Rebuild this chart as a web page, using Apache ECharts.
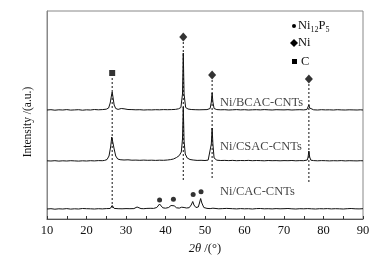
<!DOCTYPE html>
<html><head><meta charset="utf-8">
<script src="https://cdn.jsdelivr.net/npm/echarts@6/dist/echarts.min.js"></script>
<style>html,body{margin:0;padding:0;background:#fff}#c{width:385px;height:262px}</style>
</head><body><div id="c"></div>
<script>
// X ticks (2θ / °)
const xTicks = [10, 20, 30, 40, 50, 60, 70, 80, 90];
// Curves: [2θ, intensity (a.u., offset stacked)]
const bcac = [[10,109],[11,109.3],[12,108.8],[13,109.2],[14,109],[15,109.4],[16,108.9],[17,109.1],[18,109.3],[19,108.8],[20,109.2],[21,109],[22,109.5],[23,109.2],[24,109.4],[25,109.8],[25.6,111],[26,116],[26.3,123],[26.5,127],[26.7,122],[27,114],[27.4,110.5],[28,109.6],[28.8,110.5],[29.5,110.2],[30.5,109.5],[31.5,109.4],[32.5,109.2],[33.5,109.3],[34.5,109],[35.5,109.2],[36.5,109.1],[37.5,109.3],[38.5,109.2],[39.5,109.4],[40.5,109.3],[41.5,109.4],[42.5,109.6],[43.3,110.2],[43.9,111.5],[44.3,125],[44.5,166],[44.7,125],[45.1,111.5],[45.7,110],[46.5,109.5],[47.5,109.3],[48.5,109.2],[49.5,109.3],[50.5,109.4],[51.3,110.5],[51.6,117],[51.8,126],[52.0,117],[52.3,110.5],[53,109.4],[54,109.2],[55,109.3],[56,109],[57,109.2],[58,109.4],[59,109.1],[60,109.3],[61,109],[62,109.2],[63,109.3],[64,109.1],[65,109.4],[66,109.2],[67,109],[68,109.3],[69,109.2],[70,109.1],[71,109.3],[72,109],[73,109.2],[74,109.3],[75,109.1],[75.8,109.5],[76.1,111],[76.3,114],[76.5,111],[76.8,109.4],[77.5,109.2],[78.5,109],[79.5,109.3],[80.5,109.1],[81.5,109.2],[82.5,109],[83.5,109.3],[84.5,109.1],[85.5,109],[86.5,109.2],[87.5,109.1],[88.5,109],[89.3,109.2],[90,109]];
const csac = [[10,58.2],[11,58],[12,58.3],[13,57.9],[14,58.2],[15,58],[16,58.3],[17,58.1],[18,57.9],[19,58.2],[20,58],[21,58.3],[22,58.1],[23,58.4],[24,58.3],[24.6,58.6],[25.2,59.5],[25.7,63],[26.1,72],[26.4,82],[26.5,84],[26.7,80],[27,70],[27.4,63],[27.9,60],[28.5,59.3],[29.5,59],[30.5,59.2],[31.5,58.8],[32.5,58.9],[33.5,58.7],[34.5,58.9],[35.5,58.7],[36.5,58.8],[37.5,58.6],[38.5,58.8],[39.5,58.7],[40.5,59],[41.3,59.4],[42,60],[42.8,61.5],[43.5,63.5],[44,67],[44.3,80],[44.5,112],[44.7,78],[45,65],[45.5,61],[46.2,59.5],[47,59],[48,58.6],[49,58.7],[50,58.5],[50.8,58.9],[51.3,60.5],[51.6,75],[51.8,91],[52,75],[52.3,61],[53,58.8],[54,58.5],[55,58.6],[56,58.4],[57,58.6],[58,58.3],[59,58.5],[60,58.4],[61,58.6],[62,58.3],[63,58.5],[64,58.4],[65,58.2],[66,58.5],[67,58.3],[68,58.4],[69,58.2],[70,58.4],[71,58.3],[72,58.5],[73,58.2],[74,58.4],[75,58.3],[75.9,59],[76.1,62],[76.3,68],[76.5,62],[76.8,58.8],[77.5,58.4],[78.5,58.2],[79.5,58.4],[80.5,58.3],[81.5,58.1],[82.5,58.3],[83.5,58.2],[84.5,58.4],[85.5,58.1],[86.5,58.3],[87.5,58.2],[88.5,58.1],[89.3,58.3],[90,58.2]];
const cac = [[10,10],[11,10.3],[12,9.8],[13,10.2],[14,10],[15,10.4],[16,9.9],[17,10.2],[18,10],[19,10.5],[20,10.3],[20.5,11],[21,10.2],[22,10],[23,10.3],[24,10.1],[25,10.4],[26,10.5],[26.3,12],[26.5,13.5],[26.7,12],[27,10.6],[28,10.3],[29,10.2],[30,10.4],[30.5,11],[31,10.3],[32,10.4],[32.5,11.5],[32.8,12],[33.1,11],[33.8,10.4],[34.5,10.3],[35.3,10.6],[35.8,11.5],[36.3,10.7],[37,10.6],[37.8,11.5],[38.2,13.5],[38.5,15],[38.8,13.5],[39.3,11.2],[40,10.8],[40.8,11.5],[41.4,13.5],[41.8,15],[42.2,13.2],[42.8,11.2],[43.5,10.9],[44.1,11.8],[44.4,12.5],[44.7,11.5],[45.3,11],[46,11.3],[46.5,14],[46.9,17.5],[47.2,14],[47.7,11.5],[48.3,12],[48.6,16],[48.9,20.5],[49.2,16],[49.7,11.5],[50.5,10.6],[51.3,10.4],[52,10.8],[52.5,10.3],[53.5,10.2],[54.5,10.4],[55.5,10.6],[56,10.2],[57,10.3],[58,10.1],[59,10.4],[60,10.2],[61,10.3],[62,10],[63,10.4],[64,10.5],[65,10.2],[66,10.3],[67,10.1],[68,10.4],[69,10.2],[70,10.3],[71,10.5],[72,10.2],[73,10],[74,10.3],[75,10.2],[76,10.4],[77,10.2],[78,10],[79,10.3],[80,10.2],[81,10.4],[82,10.1],[83,10.3],[84,10.2],[85,10],[86,10.3],[87,10.5],[88,10.2],[89,10.1],[90,10.3]];
// Phase markers
const ni12p5Marks = [[38.5,19],[42.0,19.7],[47.0,24.6],[49.0,27.2]];
const niMarks = [[44.5,182],[51.8,144],[76.3,140]];
const cMarks = [[26.5,146]];
// Dotted guide lines: [2θ, top, bottom]
const guides = [[26.5,141,11],[44.5,177,38],[51.8,139,41],[76.3,135,36]];
// Curve labels: [2θ, intensity, text]
const curveLabels = [[53.8,116,'Ni/BCAC-CNTs'],[53.8,72,'Ni/CSAC-CNTs'],[53.8,27,'Ni/CAC-CNTs']];

const FONT = '"Liberation Serif","Times New Roman",serif';
const chart = echarts.init(document.getElementById('c'), null, {renderer:'canvas'});
const lineS = (d) => ({type:'line', data:d, symbol:'none', silent:true, lineStyle:{color:'#111', width:1}, z:3});
const series = [lineS(bcac), lineS(csac), lineS(cac)];
guides.forEach(g => series.push({type:'line', data:[[g[0],g[1]],[g[0],g[2]]], symbol:'none', silent:true, lineStyle:{color:'#111', width:1, type:[2,2]}, z:2}));
series.push({type:'scatter', data:ni12p5Marks, symbol:'circle', symbolSize:5, itemStyle:{color:'#000'}, z:4});
series.push({type:'scatter', data:niMarks, symbol:'diamond', symbolSize:[8,9], itemStyle:{color:'#000'}, z:4});
series.push({type:'scatter', data:cMarks, symbol:'rect', symbolSize:6, itemStyle:{color:'#000'}, z:4});
series.push({type:'scatter', data:curveLabels.map(l=>({value:[l[0],l[1]], name:l[2]})), symbolSize:0, z:5,
  label:{show:true, position:[0,0], align:'left', verticalAlign:'middle', formatter:p=>p.name, color:'#111', fontFamily:FONT, fontSize:12.5}});

chart.setOption({
  animation:false,
  grid:{left:47, top:11, right:22, bottom:43, show:true, borderColor:'#888', borderWidth:1},
  xAxis:{type:'value', min:xTicks[0], max:xTicks[xTicks.length-1], interval:10,
    name:'{it|2θ} /(°)', nameLocation:'middle', nameGap:22,
    nameTextStyle:{fontFamily:FONT, fontSize:12.5, color:'#111', rich:{it:{fontStyle:'italic', fontFamily:FONT, fontSize:12.5, color:'#111'}}},
    axisLine:{lineStyle:{color:'#555', width:1}},
    axisTick:{inside:true, length:3, lineStyle:{color:'#333'}},
    minorTick:{show:true, splitNumber:2, length:3, lineStyle:{color:'#333'}},
    axisLabel:{fontFamily:FONT, fontSize:12.5, color:'#111', margin:5},
    splitLine:{show:false}},
  yAxis:{type:'value', min:0, max:208, axisLine:{show:true, lineStyle:{color:'#888'}}, axisTick:{show:false}, axisLabel:{show:false}, splitLine:{show:false}},
  graphic:[
    {type:'text', x:28, y:122, rotation:Math.PI/2, style:{text:'Intensity /(a.u.)', fontFamily:FONT, fontSize:11.5, fill:'#111', align:'center', verticalAlign:'middle'}},
    {type:'circle', shape:{cx:294, cy:26, r:2}, style:{fill:'#000'}},
    {type:'text', x:298, y:26, style:{text:'Ni{s|12}P{s|5}', fontFamily:FONT, fontSize:12.5, fill:'#111', verticalAlign:'middle',
      rich:{s:{fontFamily:FONT, fontSize:8, fill:'#111', padding:[7,0,0,0]}}}},
    {type:'polygon', shape:{points:[[294,39],[298,43],[294,47],[290,43]]}, style:{fill:'#000'}},
    {type:'text', x:298, y:43, style:{text:'Ni', fontFamily:FONT, fontSize:12.5, fill:'#111', verticalAlign:'middle'}},
    {type:'rect', shape:{x:292, y:59, width:5, height:5}, style:{fill:'#000'}},
    {type:'text', x:301, y:62, style:{text:'C', fontFamily:FONT, fontSize:12.5, fill:'#111', verticalAlign:'middle'}}
  ],
  series:series
});
</script></body></html>
